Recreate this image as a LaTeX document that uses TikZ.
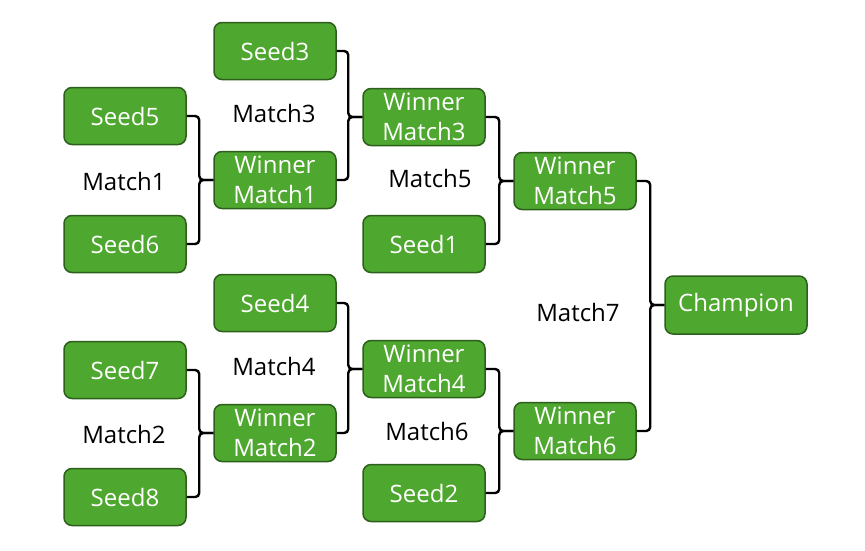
\documentclass[tikz,border=0pt]{standalone}
\usepackage{fontspec}
\setmainfont{Open Sans}
\usepackage{xcolor}
\usepackage{tikz}
\usetikzlibrary{calc, positioning}
\definecolor{teamfill}{RGB}{78,167,46}
\definecolor{teamline}{RGB}{44,96,28}
\tikzset{
    team/.style={
        rectangle,
        rounded corners=8pt,
        draw=teamline,
        line width=1.5pt,
        fill=teamfill,
        text=white,
        align=center,
        minimum width=122pt,
        minimum height=57pt,
        inner sep=2pt,
        font=\fontsize{24}{30}\selectfont
    },
    matchlabel/.style={
        text=black,
        font=\fontsize{24}{30}\selectfont
    },
    bracket/.style={
        draw=black,
        line width=2.4pt,
        rounded corners=4pt
    }
}
% two entrants -> winner
\newcommand{\joinmatch}[3]{%
  \draw[bracket] (#1.east) -| ($(#3.west)+(-14pt,0)$) -- (#3.west);
  \draw[bracket] (#2.east) -| ($(#3.west)+(-14pt,0)$) -- (#3.west);
}
\begin{document}
\begin{tikzpicture}[x=1pt, y=-1pt]
\useasboundingbox (0,0) rectangle (865,550);

% Round 1
\node[team] (seed5) at (125,116) {Seed5};
\node[team] (seed6) at (125,244) {Seed6};
\node[team] (seed7) at (125,370) {Seed7};
\node[team] (seed8) at (125,497) {Seed8};
\node[matchlabel] (match1) at (124,181) {Match1};
\node[matchlabel] (match2) at (124,434) {Match2};

% Round 2
\node[team] (seed3) at (275,51) {Seed3};
\node[team] (win1) at (275,180) {Winner\\Match1};
\node[team] (seed4) at (275,303) {Seed4};
\node[team] (win2) at (275,433) {Winner\\Match2};
\node[matchlabel] (match3) at (274,113) {Match3};
\node[matchlabel] (match4) at (274,366) {Match4};

% Round 3
\node[team] (win3) at (424,117) {Winner\\Match3};
\node[team] (seed1) at (424,244) {Seed1};
\node[team] (win4) at (424,369) {Winner\\Match4};
\node[team] (seed2) at (424,493) {Seed2};
\node[matchlabel] (match5) at (430,178) {Match5};
\node[matchlabel] (match6) at (427,431) {Match6};

% Semi-final and final
\node[team] (win5) at (575,181) {Winner\\Match5};
\node[team] (win6) at (575,431) {Winner\\Match6};
\node[matchlabel] (match7) at (578,312) {Match7};
\node[team, minimum width=142pt, minimum height=58pt] (champ) at (736,305) {Champion};

% Brackets
\joinmatch{seed5}{seed6}{win1}
\joinmatch{seed7}{seed8}{win2}
\joinmatch{seed3}{win1}{win3}
\joinmatch{seed4}{win2}{win4}
\joinmatch{win3}{seed1}{win5}
\joinmatch{win4}{seed2}{win6}
\joinmatch{win5}{win6}{champ}

\end{tikzpicture}
\end{document}
